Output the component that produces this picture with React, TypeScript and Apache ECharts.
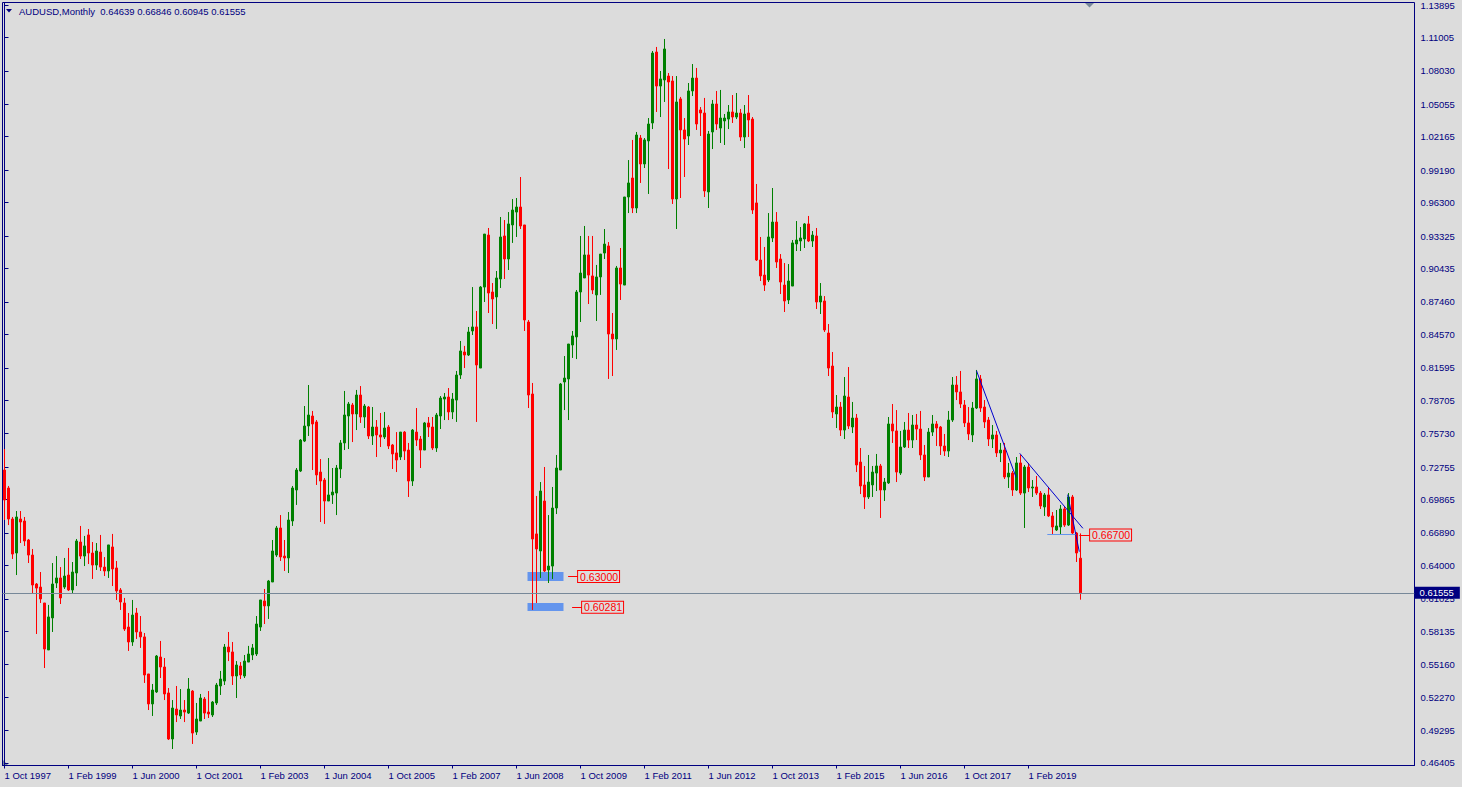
import React, { useEffect, useRef } from 'react';
import * as echarts from 'echarts';

const FONT = '"Liberation Sans", Arial, sans-serif';
const NAVY = '#000080';
const BG = '#DCDCDC';
const UP = '#008000';
const DOWN = '#FF0000';

const symbolName = 'AUDUSD,Monthly';
const monthNames = ['Jan', 'Feb', 'Mar', 'Apr', 'May', 'Jun', 'Jul', 'Aug', 'Sep', 'Oct', 'Nov', 'Dec'];
const firstYear = 1997;
const firstMonth = 9; // October
const totalSlots = 353; // bars + right shift space

const xTickEvery = 16;
const xTickLabels = [
  '1 Oct 1997', '1 Feb 1999', '1 Jun 2000', '1 Oct 2001', '1 Feb 2003', '1 Jun 2004',
  '1 Oct 2005', '1 Feb 2007', '1 Jun 2008', '1 Oct 2009', '1 Feb 2011', '1 Jun 2012',
  '1 Oct 2013', '1 Feb 2015', '1 Jun 2016', '1 Oct 2017', '1 Feb 2019',
];
const yTickLabels = [
  1.13895, 1.11005, 1.0803, 1.05055, 1.02165, 0.9919, 0.963, 0.93325, 0.90435, 0.8746,
  0.8457, 0.81595, 0.78705, 0.7573, 0.72755, 0.69865, 0.6689, 0.64, 0.61025, 0.58135,
  0.5516, 0.5227, 0.49295, 0.46405,
];

const open = [
  0.7249, 0.7089, 0.6813, 0.6510, 0.6813, 0.6795, 0.6626, 0.6492, 0.6234, 0.6207, 0.6065, 0.5647,
  0.5932, 0.6243, 0.6288, 0.6207, 0.6314, 0.6181, 0.6332, 0.6608, 0.6483, 0.6671, 0.6510, 0.6403,
  0.6519, 0.6385, 0.6350, 0.6564, 0.6377, 0.6181, 0.6065, 0.5851, 0.5718, 0.5976, 0.5807, 0.5763,
  0.5433, 0.5166, 0.5273, 0.5584, 0.5495, 0.5264, 0.4854, 0.5121, 0.5059, 0.5112, 0.5085, 0.5281,
  0.4916, 0.5014, 0.5210, 0.5094, 0.5068, 0.5175, 0.5326, 0.5370, 0.5673, 0.5629, 0.5415, 0.5504,
  0.5415, 0.5539, 0.5602, 0.5611, 0.5851, 0.6083, 0.6039, 0.6252, 0.6492, 0.6733, 0.6483, 0.6466,
  0.6795, 0.7071, 0.7240, 0.7507, 0.7641, 0.7730, 0.7677, 0.7231, 0.7160, 0.6973, 0.7027, 0.7044,
  0.7258, 0.7490, 0.7730, 0.7828, 0.7748, 0.7917, 0.7721, 0.7810, 0.7552, 0.7632, 0.7561, 0.7543,
  0.7632, 0.7472, 0.7401, 0.7365, 0.7587, 0.7427, 0.7151, 0.7587, 0.7525, 0.7427, 0.7668, 0.7632,
  0.7445, 0.7730, 0.7881, 0.7899, 0.7766, 0.7872, 0.8095, 0.8300, 0.8273, 0.8487, 0.8523, 0.8157,
  0.8878, 0.9341, 0.8834, 0.8790, 0.8950, 0.9333, 0.9128, 0.9431, 0.9546, 0.9591, 0.9431, 0.8567,
  0.7926, 0.6680, 0.6528, 0.6973, 0.6359, 0.6394, 0.6911, 0.7249, 0.8033, 0.8060, 0.8362, 0.8434,
  0.8834, 0.8959, 0.9164, 0.8977, 0.8808, 0.8968, 0.9181, 0.9244, 0.8460, 0.8416, 0.9048, 0.8896,
  0.9680, 0.9849, 0.9582, 1.0205, 0.9974, 1.0179, 1.0339, 1.0971, 1.0668, 1.0722, 1.0757, 1.0713,
  0.9662, 1.0553, 1.0277, 1.0223, 1.0624, 1.0739, 1.0455, 1.0428, 0.9725, 1.0259, 1.0508, 1.0294,
  1.0357, 1.0374, 1.0437, 1.0392, 1.0428, 1.0214, 1.0428, 1.0374, 0.9627, 0.9119, 0.8985, 0.8941,
  0.9315, 0.9457, 0.9128, 0.8896, 0.8763, 0.8887, 0.9262, 0.9288, 0.9306, 0.9440, 0.9288, 0.9333,
  0.8745, 0.8754, 0.8469, 0.8175, 0.7748, 0.7810, 0.7605, 0.7899, 0.7632, 0.7712, 0.7320, 0.7116,
  0.7009, 0.7116, 0.7222, 0.7285, 0.7071, 0.7134, 0.7659, 0.7597, 0.7222, 0.7454, 0.7605, 0.7516,
  0.7650, 0.7614, 0.7383, 0.7187, 0.7587, 0.7659, 0.7632, 0.7463, 0.7418, 0.7694, 0.8006, 0.7944,
  0.7828, 0.7668, 0.7561, 0.7801, 0.8060, 0.7810, 0.7694, 0.7525, 0.7561, 0.7401, 0.7427, 0.7187,
  0.7222, 0.7071, 0.7312, 0.7044, 0.7276, 0.7089, 0.7098, 0.7044, 0.6920, 0.7027, 0.6840, 0.6715,
  0.6742, 0.6902, 0.6759, 0.7009, 0.6688, 0.64639,
];
const high = [
  0.7436, 0.7107, 0.6831, 0.6884, 0.6884, 0.6831, 0.6635, 0.6546, 0.6243, 0.6341, 0.6065, 0.6048,
  0.6421, 0.6483, 0.6385, 0.6466, 0.6555, 0.6430, 0.6635, 0.6751, 0.6662, 0.6724, 0.6608, 0.6599,
  0.6671, 0.6474, 0.6582, 0.6680, 0.6439, 0.6198, 0.6110, 0.5976, 0.6092, 0.6021, 0.5949, 0.5798,
  0.5433, 0.5344, 0.5602, 0.5727, 0.5575, 0.5308, 0.5201, 0.5326, 0.5299, 0.5201, 0.5397, 0.5290,
  0.5175, 0.5255, 0.5228, 0.5281, 0.5192, 0.5353, 0.5460, 0.5700, 0.5807, 0.5718, 0.5548, 0.5539,
  0.5602, 0.5683, 0.5700, 0.5949, 0.6092, 0.6190, 0.6270, 0.6626, 0.6751, 0.6848, 0.6626, 0.6875,
  0.7107, 0.7267, 0.7525, 0.7819, 0.8006, 0.7775, 0.7694, 0.7347, 0.7178, 0.7356, 0.7267, 0.7294,
  0.7516, 0.7953, 0.7855, 0.7846, 0.7962, 0.7997, 0.7837, 0.7819, 0.7810, 0.7694, 0.7757, 0.7766,
  0.7650, 0.7481, 0.7587, 0.7587, 0.7596, 0.7490, 0.7614, 0.7801, 0.7552, 0.7677, 0.7721, 0.7721,
  0.7757, 0.7908, 0.7935, 0.7979, 0.7935, 0.8131, 0.8398, 0.8354, 0.8523, 0.8878, 0.8665, 0.8887,
  0.9350, 0.9404, 0.8914, 0.9021, 0.9502, 0.9475, 0.9546, 0.9662, 0.9671, 0.9858, 0.9431, 0.8585,
  0.8024, 0.7018, 0.7142, 0.7276, 0.6848, 0.7098, 0.7383, 0.8024, 0.8264, 0.8371, 0.8487, 0.8852,
  0.9333, 0.9422, 0.9333, 0.9333, 0.9075, 0.9172, 0.9395, 0.9279, 0.8647, 0.9066, 0.9226, 0.9680,
  1.0009, 1.0188, 1.0259, 1.0232, 1.0205, 1.0383, 1.0980, 1.1016, 1.0802, 1.1087, 1.0784, 1.0757,
  1.0757, 1.0571, 1.0383, 1.0695, 1.0864, 1.0829, 1.0481, 1.0562, 1.0268, 1.0544, 1.0624, 1.0633,
  1.0419, 1.0499, 1.0588, 1.0606, 1.0464, 1.0499, 1.0588, 1.0392, 0.9796, 0.9324, 0.9235, 0.9537,
  0.9760, 0.9546, 0.9172, 0.9092, 0.9083, 0.9297, 0.9466, 0.9413, 0.9448, 0.9511, 0.9377, 0.9404,
  0.8914, 0.8798, 0.8549, 0.8300, 0.7917, 0.7855, 0.8077, 0.8166, 0.7855, 0.7748, 0.7445, 0.7285,
  0.7383, 0.7285, 0.7392, 0.7303, 0.7178, 0.7721, 0.7837, 0.7783, 0.7597, 0.7677, 0.7757, 0.7739,
  0.7748, 0.7775, 0.7472, 0.7623, 0.7739, 0.7685, 0.7641, 0.7570, 0.7775, 0.8077, 0.8086, 0.8131,
  0.7872, 0.7810, 0.7855, 0.8140, 0.8095, 0.7872, 0.7721, 0.7650, 0.7597, 0.7490, 0.7490, 0.7312,
  0.7240, 0.7365, 0.7383, 0.7294, 0.7312, 0.7160, 0.7196, 0.7062, 0.7044, 0.7098, 0.6875, 0.6893,
  0.6938, 0.6929, 0.7044, 0.7027, 0.6697, 0.66846,
];
const low = [
  0.6804, 0.6759, 0.6457, 0.6314, 0.6599, 0.6573, 0.6421, 0.6154, 0.5789, 0.6065, 0.5486, 0.5647,
  0.5807, 0.6198, 0.6056, 0.6190, 0.6172, 0.6154, 0.6216, 0.6457, 0.6394, 0.6412, 0.6279, 0.6359,
  0.6350, 0.6305, 0.6288, 0.6216, 0.6092, 0.6003, 0.5816, 0.5638, 0.5683, 0.5745, 0.5665, 0.5353,
  0.5112, 0.5059, 0.5264, 0.5397, 0.5201, 0.4845, 0.4765, 0.5005, 0.5032, 0.5005, 0.5077, 0.4810,
  0.4890, 0.5014, 0.5032, 0.5041, 0.5050, 0.5157, 0.5246, 0.5335, 0.5548, 0.5335, 0.5219, 0.5388,
  0.5397, 0.5539, 0.5557, 0.5593, 0.5816, 0.5878, 0.5923, 0.6252, 0.6475, 0.6439, 0.6350, 0.6332,
  0.6751, 0.6938, 0.7231, 0.7498, 0.7552, 0.7249, 0.7116, 0.6786, 0.6769, 0.6973, 0.6947, 0.6848,
  0.7178, 0.7427, 0.7436, 0.7498, 0.7605, 0.7668, 0.7623, 0.7525, 0.7472, 0.7365, 0.7454, 0.7525,
  0.7436, 0.7258, 0.7231, 0.7338, 0.7338, 0.7009, 0.7107, 0.7463, 0.7267, 0.7427, 0.7543, 0.7427,
  0.7410, 0.7614, 0.7694, 0.7694, 0.7703, 0.7677, 0.8060, 0.8157, 0.8264, 0.8451, 0.7677, 0.8157,
  0.8745, 0.8647, 0.8549, 0.8505, 0.8870, 0.8950, 0.9030, 0.9271, 0.9324, 0.9395, 0.8487, 0.7801,
  0.6003, 0.6065, 0.6288, 0.6341, 0.6243, 0.6279, 0.6857, 0.7249, 0.7783, 0.7694, 0.8247, 0.8237,
  0.8567, 0.8959, 0.8727, 0.8816, 0.8576, 0.8808, 0.9128, 0.8060, 0.8086, 0.8318, 0.8763, 0.8896,
  0.9537, 0.9537, 0.9537, 0.9805, 0.9938, 0.9707, 1.0285, 1.0437, 1.0392, 1.0526, 0.9929, 0.9618,
  0.9395, 0.9671, 0.9858, 1.0143, 1.0579, 1.0277, 1.0223, 0.9680, 0.9582, 1.0107, 1.0277, 1.0161,
  1.0143, 1.0285, 1.0339, 1.0374, 1.0179, 1.0116, 1.0214, 0.9529, 0.9110, 0.8932, 0.8843, 0.8923,
  0.9279, 0.9048, 0.8816, 0.8656, 0.8727, 0.8887, 0.9199, 0.9199, 0.9226, 0.9279, 0.9235, 0.8683,
  0.8638, 0.8478, 0.8086, 0.7712, 0.7623, 0.7552, 0.7525, 0.7614, 0.7578, 0.7231, 0.7035, 0.6902,
  0.6991, 0.7009, 0.7062, 0.6822, 0.6973, 0.7125, 0.7490, 0.7142, 0.7205, 0.7445, 0.7445, 0.7445,
  0.7516, 0.7338, 0.7151, 0.7187, 0.7552, 0.7463, 0.7383, 0.7374, 0.7365, 0.7677, 0.7872, 0.7801,
  0.7632, 0.7516, 0.7498, 0.7792, 0.7766, 0.7623, 0.7463, 0.7445, 0.7365, 0.7320, 0.7169, 0.7089,
  0.7018, 0.7062, 0.7027, 0.6733, 0.7053, 0.7009, 0.7027, 0.6902, 0.6840, 0.6831, 0.6679, 0.6706,
  0.6679, 0.6742, 0.6751, 0.6679, 0.6430, 0.60945,
];
const close = [
  0.6982, 0.6813, 0.6501, 0.6831, 0.6786, 0.6617, 0.6492, 0.6225, 0.6198, 0.6101, 0.5655, 0.5941,
  0.6234, 0.6288, 0.6110, 0.6305, 0.6181, 0.6341, 0.6617, 0.6483, 0.6573, 0.6510, 0.6403, 0.6528,
  0.6385, 0.6350, 0.6582, 0.6368, 0.6172, 0.6074, 0.5833, 0.5718, 0.5958, 0.5807, 0.5763, 0.5424,
  0.5166, 0.5290, 0.5593, 0.5495, 0.5255, 0.4854, 0.5130, 0.5068, 0.5112, 0.5094, 0.5299, 0.4907,
  0.5032, 0.5219, 0.5085, 0.5077, 0.5183, 0.5335, 0.5388, 0.5673, 0.5629, 0.5415, 0.5513, 0.5424,
  0.5548, 0.5611, 0.5665, 0.5878, 0.6092, 0.6039, 0.6261, 0.6528, 0.6733, 0.6475, 0.6466, 0.6804,
  0.7089, 0.7249, 0.7516, 0.7641, 0.7739, 0.7659, 0.7205, 0.7151, 0.6973, 0.7027, 0.7053, 0.7267,
  0.7490, 0.7739, 0.7837, 0.7748, 0.7917, 0.7721, 0.7819, 0.7552, 0.7632, 0.7561, 0.7543, 0.7623,
  0.7463, 0.7392, 0.7338, 0.7587, 0.7418, 0.7151, 0.7605, 0.7516, 0.7427, 0.7668, 0.7632, 0.7445,
  0.7739, 0.7890, 0.7899, 0.7766, 0.7881, 0.8095, 0.8309, 0.8273, 0.8478, 0.8523, 0.8184, 0.8878,
  0.9350, 0.8825, 0.8772, 0.8959, 0.9324, 0.9128, 0.9440, 0.9564, 0.9591, 0.9422, 0.8585, 0.7917,
  0.6635, 0.6546, 0.7062, 0.6350, 0.6394, 0.6911, 0.7267, 0.8015, 0.8068, 0.8371, 0.8443, 0.8834,
  0.9003, 0.9164, 0.8985, 0.8852, 0.8968, 0.9172, 0.9261, 0.8460, 0.8416, 0.9048, 0.8905, 0.9680,
  0.9805, 0.9582, 1.0232, 0.9974, 1.0188, 1.0330, 1.0962, 1.0668, 1.0731, 1.0998, 1.0704, 0.9662,
  1.0526, 1.0277, 1.0196, 1.0624, 1.0739, 1.0330, 1.0428, 0.9734, 1.0241, 1.0508, 1.0330, 1.0383,
  1.0383, 1.0437, 1.0392, 1.0428, 1.0214, 1.0419, 1.0366, 0.9564, 0.9119, 0.8977, 0.8896, 0.9324,
  0.9457, 0.9101, 0.8923, 0.8754, 0.8932, 0.9271, 0.9297, 0.9315, 0.9440, 0.9288, 0.9341, 0.8745,
  0.8798, 0.8496, 0.8157, 0.7766, 0.7810, 0.7605, 0.7908, 0.7641, 0.7712, 0.7294, 0.7107, 0.7009,
  0.7142, 0.7231, 0.7285, 0.7071, 0.7142, 0.7659, 0.7597, 0.7231, 0.7454, 0.7605, 0.7516, 0.7650,
  0.7614, 0.7383, 0.7187, 0.7587, 0.7659, 0.7623, 0.7463, 0.7418, 0.7694, 0.8006, 0.7944, 0.7837,
  0.7668, 0.7570, 0.7801, 0.8060, 0.7801, 0.7677, 0.7525, 0.7561, 0.7401, 0.7427, 0.7187, 0.7222,
  0.7071, 0.7312, 0.7044, 0.7276, 0.7089, 0.7098, 0.7044, 0.6929, 0.7027, 0.6840, 0.6742, 0.6751,
  0.6902, 0.6759, 0.7009, 0.6688, 0.6510, 0.61555,
];

// Annotation objects in data coordinates: [bar index, price]
const trendLines = [
  [[243, 0.8133], [252.9, 0.7184]],
  [[253.8, 0.7398], [269.6, 0.673]],
  [[265.8, 0.703], [268.7, 0.6522]],
];
const supportLine = [[260.7, 0.6679], [267.75, 0.6679]];
const zones = [
  [[130.75, 0.6341], [139.75, 0.6261]],
  [[130.75, 0.6065], [139.75, 0.5994]],
];
const priceTags = [
  { price: 0.63, from: 140.9, to: 143.4 },
  { price: 0.60281, from: 141.9, to: 144.4 },
  { price: 0.667, from: 268.7, to: 271.4 },
];

const categories: string[] = [];
for (let i = 0; i < totalSlots; i++) {
  const m = (firstMonth + i) % 12;
  const y = firstYear + Math.floor((firstMonth + i) / 12);
  categories.push(`1 ${monthNames[m]} ${y}`);
}

const lastIdx = close.length - 1;
const currentPrice = close[lastIdx];
const headerText = `${symbolName}  ${[open[lastIdx], high[lastIdx], low[lastIdx], close[lastIdx]]
  .map((v) => v.toFixed(5))
  .join(' ')}`;

const showXTick = (index: number) => index % xTickEvery === 0 && index / xTickEvery < xTickLabels.length;

export default function App() {
  const ref = useRef<HTMLDivElement>(null);
  useEffect(() => {
    document.body.style.margin = '0';
    document.body.style.background = BG;
    const chart = echarts.init(ref.current!, undefined, { renderer: 'svg' });
    const candleData = open.map((o, i) => [o, close[i], low[i], high[i]]);

    const option: any = {
      animation: false,
      backgroundColor: BG,
      textStyle: { fontFamily: FONT },
      grid: {
        left: 2.5,
        top: 2.5,
        width: 1412,
        height: 763,
        show: true,
        borderColor: NAVY,
        borderWidth: 1,
        backgroundColor: 'transparent',
      },
      xAxis: [
        {
          type: 'category',
          data: categories,
          boundaryGap: true,
          axisLine: { show: true, lineStyle: { color: NAVY, width: 1 } },
          axisTick: {
            show: true,
            interval: showXTick,
            alignWithLabel: true,
            length: 3,
            lineStyle: { color: NAVY },
          },
          axisLabel: {
            interval: showXTick,
            formatter: (_v: string, idx: number) => xTickLabels[idx / xTickEvery] ?? '',
            align: 'left',
            margin: 5,
            color: NAVY,
            fontSize: 9.5,
            fontFamily: FONT,
          },
          splitLine: { show: false },
        },
        {
          type: 'value',
          min: -0.5,
          max: totalSlots - 0.5,
          show: false,
        },
      ],
      yAxis: {
        type: 'value',
        position: 'right',
        min: 0.46181,
        max: 1.14118,
        axisLine: { show: true, lineStyle: { color: NAVY, width: 1 } },
        axisTick: { show: true, customValues: yTickLabels, length: 4, lineStyle: { color: NAVY } },
        axisLabel: {
          customValues: yTickLabels,
          formatter: (v: number) => v.toFixed(5),
          color: NAVY,
          fontSize: 9.5,
          fontFamily: FONT,
          margin: 6,
        },
        splitLine: { show: false },
      },
      graphic: [
        {
          type: 'polygon',
          shape: { points: [[6, 9], [12, 9], [9, 12.5]] },
          style: { fill: NAVY },
        },
        {
          type: 'text',
          x: 19,
          y: 11,
          style: { text: headerText, fill: NAVY, font: `9.5px ${FONT}`, verticalAlign: 'middle' },
        },
        {
          type: 'polygon',
          shape: { points: [[1085, 3], [1094, 3], [1089.5, 7.5]] },
          style: { fill: '#778899' },
        },
        {
          type: 'polygon',
          shape: { points: [[3, 760], [3, 765], [8, 765]] },
          style: { fill: '#778899' },
        },
      ],
      series: [
        {
          type: 'candlestick',
          xAxisIndex: 0,
          data: candleData,
          barWidth: 2,
          itemStyle: {
            color: UP,
            color0: DOWN,
            borderColor: UP,
            borderColor0: DOWN,
            borderColorDoji: UP,
            borderWidth: 1,
          },
          markLine: {
            silent: true,
            precision: 5,
            symbol: ['none', 'none'],
            lineStyle: { color: '#778899', width: 1, type: 'solid' },
            label: {
              show: true,
              position: 'end',
              distance: 0,
              formatter: currentPrice.toFixed(5),
              color: '#FFFFFF',
              backgroundColor: NAVY,
              padding: [1, 6, 1, 5],
              fontSize: 9.5,
              fontFamily: FONT,
            },
            data: [{ yAxis: currentPrice }],
          },
          z: 3,
        },
        {
          type: 'line',
          xAxisIndex: 1,
          yAxisIndex: 0,
          data: [],
          symbol: 'none',
          silent: true,
          markArea: {
            silent: true,
            itemStyle: { color: '#6495ED', opacity: 1 },
            data: zones.map((z) => [{ coord: z[0] }, { coord: z[1] }]),
          },
          markLine: {
            silent: true,
            precision: 5,
            symbol: ['none', 'none'],
            label: { show: false },
            lineStyle: { type: 'solid', width: 1 },
            data: [
              ...trendLines.map((t) => [
                { coord: t[0], lineStyle: { color: '#0000CD', width: 1, type: 'solid' } },
                { coord: t[1] },
              ]),
              [
                { coord: supportLine[0], lineStyle: { color: '#6495ED', width: 1, type: 'solid' } },
                { coord: supportLine[1] },
              ],
              ...priceTags.map((p) => [
                {
                  coord: [p.from, p.price],
                  lineStyle: { color: DOWN, width: 1, type: 'solid' },
                  label: {
                    show: true,
                    position: 'end',
                    distance: 0,
                    formatter: p.price.toFixed(5),
                    color: DOWN,
                    borderColor: DOWN,
                    borderWidth: 1,
                    backgroundColor: BG,
                    padding: [0, 1, 0, 2],
                    fontSize: 10.5,
                    fontFamily: FONT,
                  },
                },
                { coord: [p.to, p.price] },
              ]),
            ],
          },
          z: 4,
        },
      ],
    };

    chart.setOption(option);
    return () => chart.dispose();
  }, []);
  return <div ref={ref} style={{ width: 1462, height: 787 }} />;
}
